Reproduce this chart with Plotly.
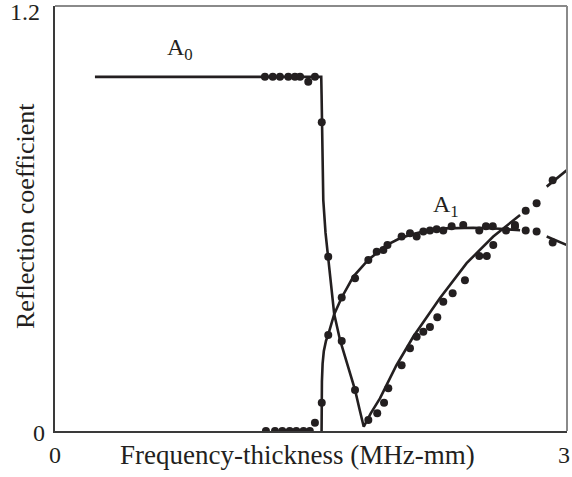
import plotly.graph_objects as go

# ---- data ----
x_ticks = [0, 3]
x_tick_text = ["0", "3"]
y_ticks = [0, 1.2]
y_tick_text = ["0", "1.2"]

# A0 theory curve (None marks the gap in the line)
a0_line_x = [0.234, 1.560, 1.562, 1.565, 1.572, 1.585, 1.601, 1.621, 1.636, 1.670, 1.710, 1.758,
             1.785, 1.809, 1.850, 1.904, 2.000, 2.099, 2.255, 2.412, 2.568, 2.725, None, 2.881, 3.0]
a0_line_y = [1.0, 1.0, 0.95, 0.80, 0.652, 0.56, 0.492, 0.398, 0.33, 0.257, 0.19, 0.116,
             0.06, 0.012, 0.05, 0.092, 0.185, 0.266, 0.375, 0.474, 0.549, 0.610, None, 0.690, 0.737]

# A1 theory curve
a1_line_x = [1.562, 1.562, 1.564, 1.568, 1.575, 1.588, 1.601, 1.636, 1.680, 1.748, 1.835, 1.943,
             2.021, 2.099, 2.158, 2.295, 2.451, 2.607, 2.725, None, 2.881, 3.0]
a1_line_y = [0.0, 0.08, 0.14, 0.19, 0.225, 0.255, 0.272, 0.33, 0.377, 0.436, 0.483, 0.525,
             0.544, 0.556, 0.563, 0.572, 0.574, 0.571, 0.567, None, 0.549, 0.525]

# A0 measured points
a0_pts_x = [1.230, 1.276, 1.318, 1.367, 1.406, 1.436, 1.484, 1.523, 1.563, 1.601, 1.680, 1.758,
            1.836, 1.888, 1.928, 1.953, 2.031, 2.080, 2.119, 2.158, 2.197, 2.240, 2.275, 2.330,
            2.402, 2.486, 2.530, 2.568, 2.695, 2.758, 2.822, 2.916]
a0_pts_y = [1.0, 1.0, 1.0, 1.0, 1.0, 1.0, 0.986, 1.0, 0.872, 0.492, 0.254, 0.116,
            0.031, 0.050, 0.080, 0.121, 0.186, 0.234, 0.266, 0.280, 0.294, 0.321, 0.365, 0.389,
            0.426, 0.494, 0.494, 0.525, 0.582, 0.622, 0.643, 0.708]

# A1 measured points
a1_pts_x = [1.236, 1.289, 1.332, 1.375, 1.414, 1.456, 1.493, 1.523, 1.563, 1.601, 1.680, 1.758,
            1.836, 1.885, 1.924, 1.948, 2.031, 2.080, 2.119, 2.158, 2.197, 2.236, 2.275, 2.324,
            2.392, 2.486, 2.525, 2.565, 2.643, 2.695, 2.758, 2.822, 2.916]
a1_pts_y = [0.0, 0.0, 0.0, 0.0, 0.0, 0.0, 0.0, 0.023, 0.080, 0.271, 0.377, 0.431,
            0.483, 0.506, 0.511, 0.525, 0.549, 0.558, 0.549, 0.563, 0.566, 0.570, 0.566, 0.578,
            0.582, 0.566, 0.578, 0.578, 0.566, 0.576, 0.566, 0.563, 0.532]

ink = "#231f20"
font_family = "Liberation Serif, Times New Roman, serif"

fig = go.Figure()
fig.add_trace(go.Scatter(x=a0_line_x, y=a0_line_y, mode="lines",
                         line=dict(color=ink, width=2.6), connectgaps=False, showlegend=False))
fig.add_trace(go.Scatter(x=a1_line_x, y=a1_line_y, mode="lines",
                         line=dict(color=ink, width=2.6), connectgaps=False, showlegend=False))
fig.add_trace(go.Scatter(x=a0_pts_x, y=a0_pts_y, mode="markers",
                         marker=dict(color=ink, size=8), showlegend=False))
fig.add_trace(go.Scatter(x=a1_pts_x, y=a1_pts_y, mode="markers",
                         marker=dict(color=ink, size=8), showlegend=False))

fig.add_annotation(x=0.732, y=1.079, text="A<sub>0</sub>", showarrow=False,
                   font=dict(family=font_family, size=24, color=ink))
fig.add_annotation(x=2.291, y=0.636, text="A<sub>1</sub>", showarrow=False,
                   font=dict(family=font_family, size=24, color=ink))

# tick labels, placed on the axes' own scales
for v, t in zip(x_ticks, x_tick_text):
    fig.add_annotation(x=v, y=0, yref="y", text=t, showarrow=False, yanchor="middle",
                       xshift=0 if v == 0 else -3, yshift=-24,
                       font=dict(family=font_family, size=24, color=ink))
for v, t in zip(y_ticks, y_tick_text):
    fig.add_annotation(x=0, xref="x", y=v, text=t, showarrow=False, xanchor="right",
                       xshift=-8 if v == 0 else -13, yshift=-2 if v == 0 else -6,
                       font=dict(family=font_family, size=24, color=ink))

# axis titles as annotations (placed like the reference)
fig.add_annotation(xref="paper", yref="paper", x=0.4727, y=-0.056, yanchor="middle",
                   text="Frequency-thickness (MHz-mm)", showarrow=False,
                   font=dict(family=font_family, size=27, color=ink))
fig.add_annotation(xref="paper", yref="paper", x=-0.0566, y=0.506, xanchor="center",
                   textangle=-90, text="Reflection coefficient", showarrow=False,
                   font=dict(family=font_family, size=26, color=ink))

# top and right frame lines (lighter grey)
fig.add_shape(type="line", xref="paper", yref="paper", x0=0, x1=1, y0=1, y1=1,
              line=dict(color="#8a8a8a", width=2))
fig.add_shape(type="line", xref="paper", yref="paper", x0=1, x1=1, y0=0, y1=1,
              line=dict(color="#8a8a8a", width=2))

fig.update_xaxes(range=[0, 3], showticklabels=False, showgrid=False, automargin=False,
                 zeroline=False, showline=True, linecolor="#3a3a3a", linewidth=1.5, ticks="")
fig.update_yaxes(range=[0, 1.2], showticklabels=False, showgrid=False, automargin=False,
                 zeroline=False, showline=True, linecolor="#3a3a3a", linewidth=1.5, ticks="")

fig.update_layout(width=572, height=477, margin=dict(l=55, r=5, t=6, b=46, autoexpand=False),
                  plot_bgcolor="white", paper_bgcolor="white")

fig.write_html("out.html", config={"displayModeBar": False},
               post_script="document.body.style.margin='0px';")
